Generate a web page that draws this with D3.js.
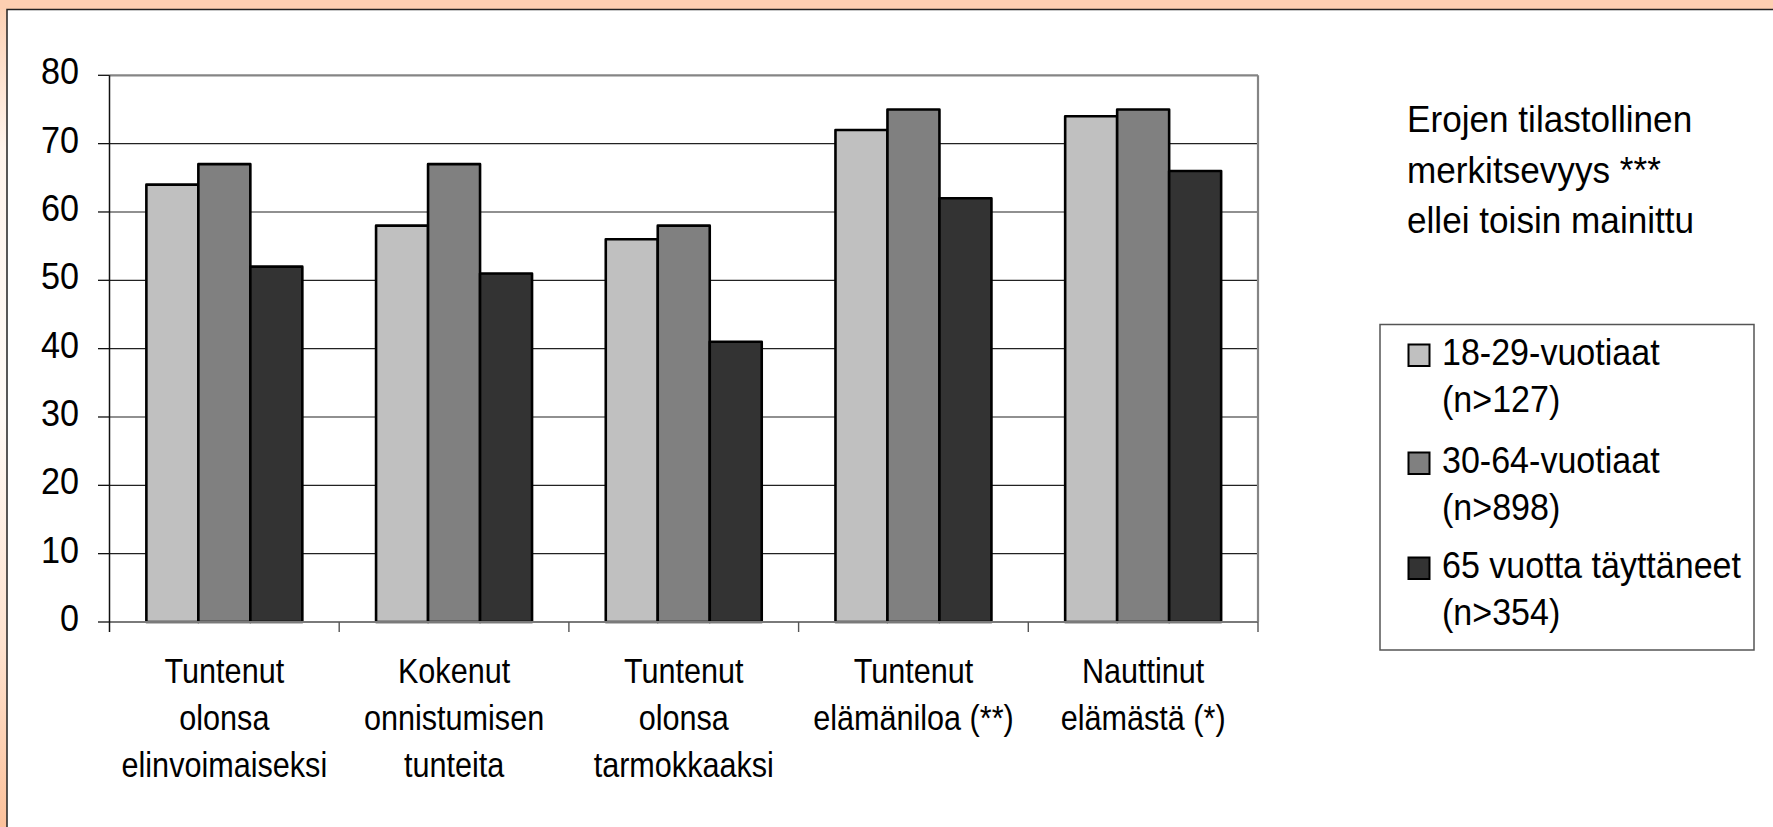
<!DOCTYPE html>
<html>
<head>
<meta charset="utf-8">
<script src="https://cdn.jsdelivr.net/npm/d3@7"></script>
<style>
  html, body { margin: 0; padding: 0; background: #ffffff; }
  svg { display: block; }
  text { font-family: "Liberation Sans", Arial, sans-serif; fill: #000; }
</style>
</head>
<body>
<svg id="chart" width="1773" height="827"></svg>
<script>
// Category labels (one entry per group, lines split by "\n")
const categories = [
  "Tuntenut\nolonsa\nelinvoimaiseksi",
  "Kokenut\nonnistumisen\ntunteita",
  "Tuntenut\nolonsa\ntarmokkaaksi",
  "Tuntenut\nelämäniloa (**)",
  "Nauttinut\nelämästä (*)"
];

// Share (%) per age group
const age18to29 = [64, 58, 56, 72, 74];
const age30to64 = [67, 67, 58, 75, 75];
const age65plus = [52, 51, 41, 62, 66];

const seriesNames = ["18-29-vuotiaat\n(n>127)", "30-64-vuotiaat\n(n>898)", "65 vuotta täyttäneet\n(n>354)"];
const seriesColors = ["#c0c0c0", "#808080", "#333333"];

const yTicks = [0, 10, 20, 30, 40, 50, 60, 70, 80];

const noteLines = ["Erojen tilastollinen", "merkitsevyys ***", "ellei toisin mainittu"];

const seriesValues = [age18to29, age30to64, age65plus];

const svg = d3.select("#chart");
const W = 1773, H = 827;

// ---- slide background & frame ----
const defs = svg.append("defs");
const lg = defs.append("linearGradient").attr("id", "sideGrad")
  .attr("x1", 0).attr("y1", 0).attr("x2", 0).attr("y2", 1);
[[0, "#fccfb1"], [0.18, "#fff4ec"], [0.5, "#fffaf6"], [0.78, "#fee2cf"], [1, "#fcc19b"]]
  .forEach(([o, c]) => lg.append("stop").attr("offset", o).attr("stop-color", c));

svg.append("rect").attr("x", 0).attr("y", 0).attr("width", W).attr("height", H).attr("fill", "url(#sideGrad)");
svg.append("rect").attr("x", 0).attr("y", 0).attr("width", W).attr("height", 9).attr("fill", "#fdcfb1");
svg.append("rect").attr("x", 7).attr("y", 9.5).attr("width", W).attr("height", H)
  .attr("fill", "#ffffff").attr("stroke", "#222").attr("stroke-width", 1.5);

// ---- scales ----
const plot = { left: 109.5, right: 1258, top: 75.3, bottom: 622 };

const x0 = d3.scaleBand().domain(d3.range(categories.length))
  .range([plot.left, plot.right]).paddingInner(0.321).paddingOuter(0.1605);
const x1 = d3.scaleBand().domain(d3.range(seriesValues.length))
  .range([0, x0.bandwidth()]).padding(0);
const y = d3.scaleLinear().domain([0, 80]).range([plot.bottom, plot.top]);

// helper for horizontally condensed text
function label(g, x, yy, str, opts) {
  const t = g.append("text")
    .attr("transform", `translate(${x},${yy}) scale(${opts.sx},1)`)
    .attr("font-size", opts.size)
    .attr("text-anchor", opts.anchor || "start")
    .text(str);
  return t;
}

// ---- gridlines ----
svg.append("g").selectAll("line").data(yTicks.filter(d => d > 0 && d < 80)).join("line")
  .attr("x1", plot.left).attr("x2", plot.right)
  .attr("y1", d => y(d)).attr("y2", d => y(d))
  .attr("stroke", "#222").attr("stroke-width", 1.2);

// plot area border (top & right) and category axis
svg.append("line").attr("x1", plot.left).attr("x2", plot.right).attr("y1", y(80)).attr("y2", y(80))
  .attr("stroke", "#858585").attr("stroke-width", 2.2);
svg.append("line").attr("x1", plot.right).attr("x2", plot.right).attr("y1", y(80)).attr("y2", plot.bottom)
  .attr("stroke", "#858585").attr("stroke-width", 2.2);

// ---- bars ----
const groups = svg.append("g").selectAll("g").data(categories.map((c, i) => i)).join("g")
  .attr("transform", i => `translate(${x0(i)},0)`);
groups.selectAll("rect")
  .data(i => seriesValues.map((vals, s) => ({ s, v: vals[i] })))
  .join("rect")
  .attr("x", d => x1(d.s))
  .attr("width", x1.bandwidth())
  .attr("y", d => y(d.v))
  .attr("height", d => y(0) - y(d.v))
  .attr("fill", d => seriesColors[d.s])
  .attr("stroke", "#000").attr("stroke-width", 2.6)
  .attr("stroke-linejoin", "round");

// ---- x axis ----
svg.append("line").attr("x1", plot.left).attr("x2", plot.right).attr("y1", plot.bottom).attr("y2", plot.bottom)
  .attr("stroke", "#7a7a7a").attr("stroke-width", 2.2);
const boundaries = d3.range(categories.length + 1).map(i => plot.left + i * x0.step());
svg.append("g").selectAll("line").data(boundaries.slice(1)).join("line")
  .attr("x1", d => d).attr("x2", d => d).attr("y1", plot.bottom).attr("y2", plot.bottom + 10)
  .attr("stroke", "#555").attr("stroke-width", 1.4);

const xl = svg.append("g");
categories.forEach((c, i) => {
  const cx = x0(i) + x0.bandwidth() / 2;
  c.split("\n").forEach((line, k) => {
    label(xl, cx, 682.7 + k * 47, line, { size: 36, sx: 0.85, anchor: "middle" });
  });
});

// ---- y axis ----
svg.append("line").attr("x1", plot.left).attr("x2", plot.left).attr("y1", y(80)).attr("y2", plot.bottom + 10)
  .attr("stroke", "#111").attr("stroke-width", 1.5);
svg.append("g").selectAll("line").data(yTicks).join("line")
  .attr("x1", plot.left - 11.5).attr("x2", plot.left)
  .attr("y1", d => y(d)).attr("y2", d => y(d))
  .attr("stroke", "#111").attr("stroke-width", 1.3);
const yl = svg.append("g");
yTicks.forEach(t => label(yl, 79, y(t) + 9, String(t), { size: 36, sx: 0.95, anchor: "end" }));

// ---- significance note ----
const note = svg.append("g");
noteLines.forEach((line, k) => label(note, 1407, 131.7 + k * 50.8, line, { size: 37, sx: 0.95 }));

// ---- legend ----
const leg = svg.append("g");
leg.append("rect").attr("x", 1380).attr("y", 324.5).attr("width", 374).attr("height", 325.5)
  .attr("fill", "#fff").attr("stroke", "#555").attr("stroke-width", 1.5);
const itemBase = [365, 473, 578];
seriesNames.forEach((name, s) => {
  const b = itemBase[s];
  leg.append("rect").attr("x", 1408.5).attr("y", b - 20.5).attr("width", 21).attr("height", 21.5)
    .attr("fill", seriesColors[s]).attr("stroke", "#000").attr("stroke-width", 2);
  name.split("\n").forEach((line, k) => {
    label(leg, 1442, b + k * 46.5, line, { size: 37, sx: 0.92 });
  });
});
</script>
</body>
</html>
